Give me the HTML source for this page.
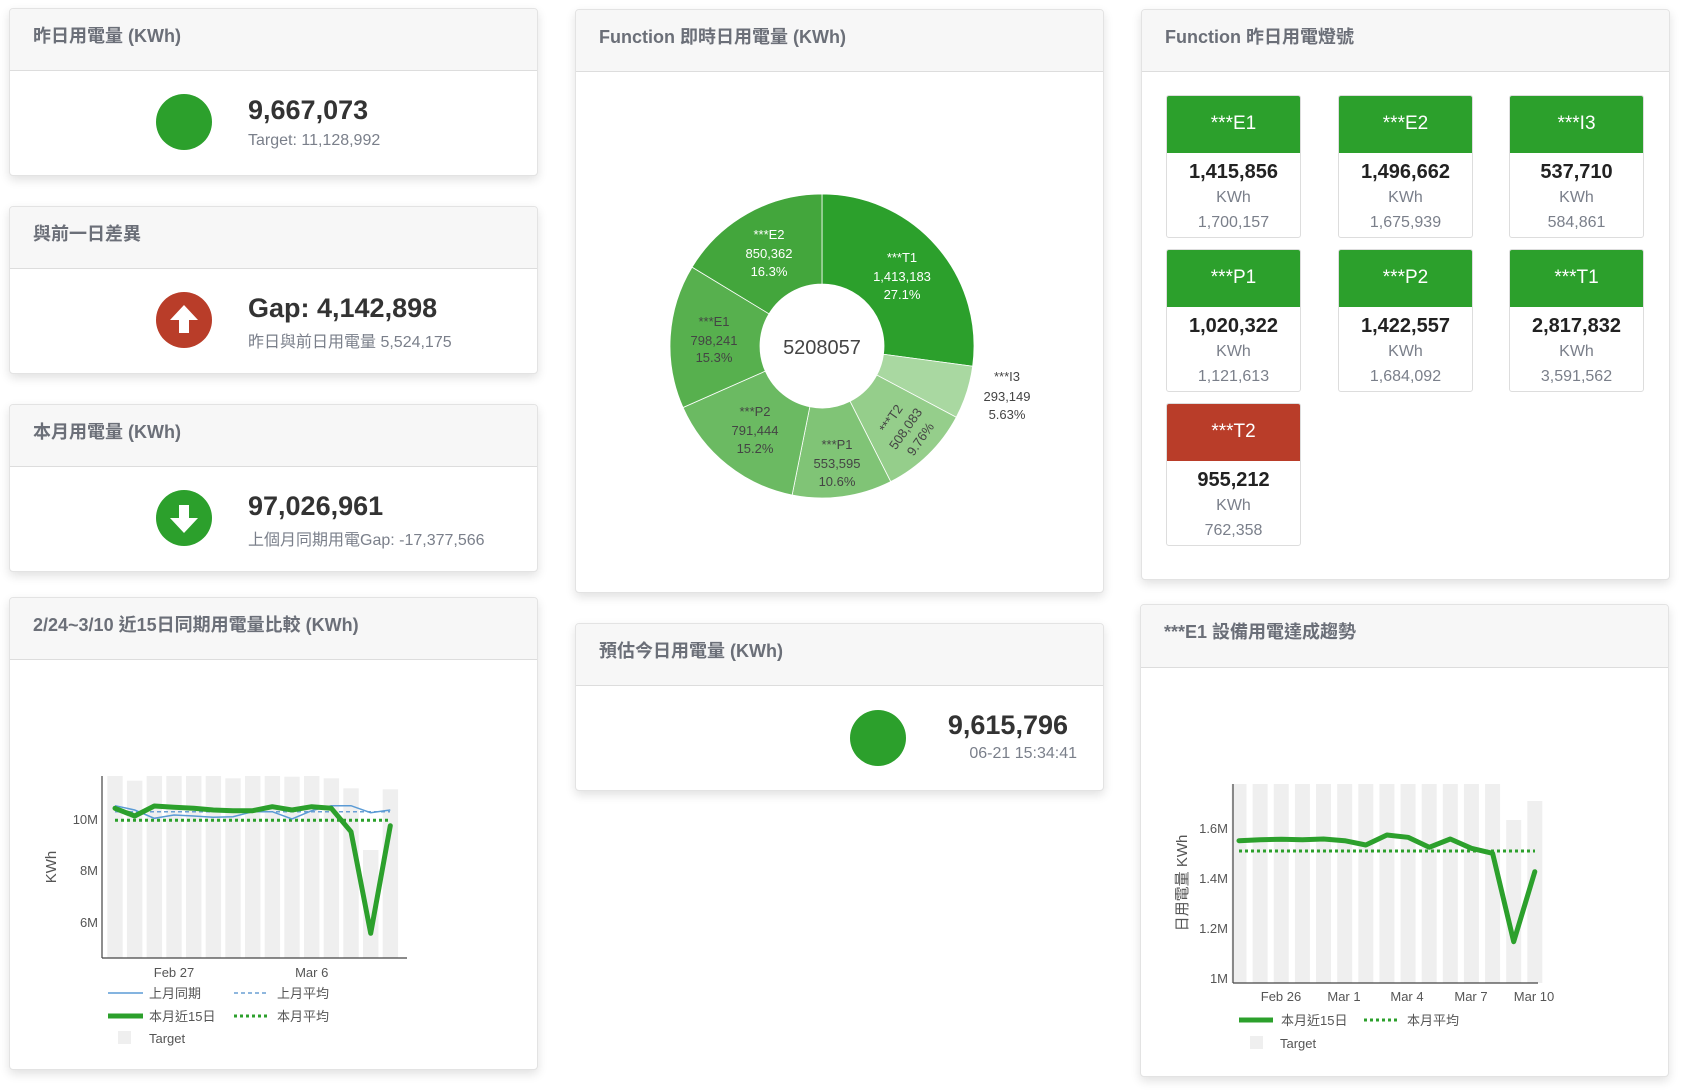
<!DOCTYPE html>
<html><head><meta charset="utf-8">
<style>
*{box-sizing:border-box;margin:0;padding:0}
body{width:1681px;height:1091px;background:#fff;position:relative;overflow:hidden;font-family:"Liberation Sans","Noto Sans CJK TC",sans-serif;color:#333}
.card{position:absolute;background:#fff;border:1px solid #e3e3e3;border-radius:4px;box-shadow:0 4px 10px rgba(0,0,0,0.12);overflow:hidden}
.hd{position:absolute;left:0;right:0;top:0;background:#f7f7f7;border-bottom:1px solid #ddd;color:#6b6f78;font-weight:bold;font-size:18px;padding-left:23px;padding-top:16px;line-height:22px}
.ab{position:absolute;white-space:nowrap}
.circ{position:absolute;width:56px;height:56px;border-radius:50%}
.big{font-size:27px;font-weight:bold;color:#333}
.sub{font-size:16px;color:#7a7f8a}
.box{position:absolute;width:135px;border:1px solid #ddd;border-radius:3px;background:#fff;text-align:center;overflow:hidden}
.box .t{height:57px;background:#2ca02c;color:#fff;font-size:19px;line-height:55px}
.box .v{font-size:20px;font-weight:bold;color:#222;margin-top:8px;line-height:22px}
.box .u{font-size:16px;color:#7a7f8a;line-height:30px}
.box .p{font-size:16px;color:#7a7f8a;line-height:20px}
svg text{font-family:"Liberation Sans","Noto Sans CJK TC",sans-serif}
</style></head><body>

<div class="card" style="left:9px;top:8px;width:529px;height:168px"><div class="hd" style="height:62px">昨日用電量 (KWh)</div></div>
<div class="circ" style="left:156px;top:94px;background:#2ca02c"></div>
<div class="ab big" style="left:248px;top:95px">9,667,073</div>
<div class="ab sub" style="left:248px;top:132px">Target: 11,128,992</div>

<div class="card" style="left:9px;top:206px;width:529px;height:168px"><div class="hd" style="height:62px">與前一日差異</div></div>
<div class="circ" style="left:156px;top:292px;background:#b93d29"></div>
<svg class="ab" style="left:156px;top:292px" width="56" height="56"><polygon points="28,13 42,28 33,28 33,41 23,41 23,28 14,28" fill="#fff"/></svg>
<div class="ab big" style="left:248px;top:293px">Gap: 4,142,898</div>
<div class="ab sub" style="left:248px;top:328px">昨日與前日用電量 5,524,175</div>

<div class="card" style="left:9px;top:404px;width:529px;height:168px"><div class="hd" style="height:62px">本月用電量 (KWh)</div></div>
<div class="circ" style="left:156px;top:490px;background:#2ca02c"></div>
<svg class="ab" style="left:156px;top:490px" width="56" height="56"><polygon points="28,43 42,28 33,28 33,15 23,15 23,28 14,28" fill="#fff"/></svg>
<div class="ab big" style="left:248px;top:491px">97,026,961</div>
<div class="ab sub" style="left:248px;top:526px">上個月同期用電Gap: -17,377,566</div>

<div class="card" style="left:9px;top:597px;width:529px;height:473px"><div class="hd" style="height:62px">2/24~3/10 近15日同期用電量比較 (KWh)</div></div>

<div class="card" style="left:575px;top:9px;width:529px;height:584px"><div class="hd" style="height:62px">Function 即時日用電量 (KWh)</div></div>

<div class="card" style="left:575px;top:623px;width:529px;height:168px"><div class="hd" style="height:62px">預估今日用電量 (KWh)</div></div>
<div class="circ" style="left:850px;top:710px;background:#2ca02c"></div>
<div class="ab big" style="right:613px;top:710px">9,615,796</div>
<div class="ab sub" style="right:604px;top:745px">06-21 15:34:41</div>

<div class="card" style="left:1141px;top:9px;width:529px;height:571px"><div class="hd" style="height:62px">Function 昨日用電燈號</div></div>
<div class="box" style="left:1166px;top:95px;height:143px"><div class="t">***E1</div><div class="v">1,415,856</div><div class="u">KWh</div><div class="p">1,700,157</div></div>
<div class="box" style="left:1338px;top:95px;height:143px"><div class="t">***E2</div><div class="v">1,496,662</div><div class="u">KWh</div><div class="p">1,675,939</div></div>
<div class="box" style="left:1509px;top:95px;height:143px"><div class="t">***I3</div><div class="v">537,710</div><div class="u">KWh</div><div class="p">584,861</div></div>
<div class="box" style="left:1166px;top:249px;height:143px"><div class="t">***P1</div><div class="v">1,020,322</div><div class="u">KWh</div><div class="p">1,121,613</div></div>
<div class="box" style="left:1338px;top:249px;height:143px"><div class="t">***P2</div><div class="v">1,422,557</div><div class="u">KWh</div><div class="p">1,684,092</div></div>
<div class="box" style="left:1509px;top:249px;height:143px"><div class="t">***T1</div><div class="v">2,817,832</div><div class="u">KWh</div><div class="p">3,591,562</div></div>
<div class="box" style="left:1166px;top:403px;height:143px"><div class="t" style="background:#b93d29">***T2</div><div class="v">955,212</div><div class="u">KWh</div><div class="p">762,358</div></div>

<div class="card" style="left:1140px;top:604px;width:529px;height:473px"><div class="hd" style="height:63px">***E1 設備用電達成趨勢</div></div>

<svg class="ab" style="left:0;top:0" width="1681" height="1091">
<g id="pie"></g>
<g font-size="13" text-anchor="middle">
<text x="769" y="239" fill="#fff">***E2</text><text x="769" y="258" fill="#fff">850,362</text><text x="769" y="276" fill="#fff">16.3%</text>
<text x="902" y="262" fill="#fff">***T1</text><text x="902" y="281" fill="#fff">1,413,183</text><text x="902" y="299" fill="#fff">27.1%</text>
<text x="714" y="326" fill="#444">***E1</text><text x="714" y="345" fill="#444">798,241</text><text x="714" y="362" fill="#444">15.3%</text>
<text x="755" y="416" fill="#444">***P2</text><text x="755" y="435" fill="#444">791,444</text><text x="755" y="453" fill="#444">15.2%</text>
<text x="837" y="449" fill="#444">***P1</text><text x="837" y="468" fill="#444">553,595</text><text x="837" y="486" fill="#444">10.6%</text>
<g transform="translate(906,429) rotate(-55)"><text x="0" y="-14" fill="#444">***T2</text><text x="0" y="4" fill="#444">508,083</text><text x="0" y="22" fill="#444">9.76%</text></g>
<text x="1007" y="381" fill="#444">***I3</text><text x="1007" y="401" fill="#444">293,149</text><text x="1007" y="419" fill="#444">5.63%</text>
<text x="822" y="354" font-size="20" fill="#444">5208057</text>
</g>

<g fill="#efefef" id="lb"></g>
<g stroke="#444" stroke-width="1.2" fill="none"><line x1="102" y1="776" x2="102" y2="958"/><line x1="102" y1="958" x2="407" y2="958"/></g>
<g font-size="13" fill="#555" text-anchor="end"><text x="98" y="824">10M</text><text x="98" y="875">8M</text><text x="98" y="927">6M</text></g>
<text transform="translate(56,867) rotate(-90)" font-size="15" fill="#555" text-anchor="middle">KWh</text>
<g font-size="13" fill="#555" text-anchor="middle"><text x="174" y="977">Feb 27</text><text x="311.7" y="977">Mar 6</text></g>
<line x1="115" y1="811.7" x2="390" y2="811.7" stroke="#6a9fd4" stroke-width="1.5" stroke-dasharray="4,3"/>
<line x1="115" y1="820.3" x2="390" y2="820.3" stroke="#2ca02c" stroke-width="3" stroke-dasharray="3,3"/>
<polyline fill="none" stroke="#5b9bd5" stroke-width="1.5" points="115,805.7 134.7,810 154.3,818.3 174,815 193.7,816 213.3,817.3 233,816.7 252.7,811.7 272.3,811.7 292,819 311.7,810.7 331.3,805.7 351,805.7 370.7,812.7 390.3,810"/>
<polyline fill="none" stroke="#2ca02c" stroke-width="5" stroke-linejoin="round" stroke-linecap="round" points="115,808.3 134.7,816 154.3,806 174,807.3 193.7,808.3 213.3,810 233,810.7 252.7,810.7 272.3,806.7 292,810 311.7,806.7 331.3,808.3 351,831.7 370.7,933.3 390.3,825.7"/>
<g font-size="13" fill="#555">
<line x1="108" y1="993" x2="143" y2="993" stroke="#5b9bd5" stroke-width="1.5"/><text x="149" y="998">上月同期</text>
<line x1="234" y1="993" x2="267" y2="993" stroke="#6a9fd4" stroke-width="1.5" stroke-dasharray="4,3"/><text x="277" y="998">上月平均</text>
<line x1="108" y1="1016" x2="143" y2="1016" stroke="#2ca02c" stroke-width="5"/><text x="149" y="1021">本月近15日</text>
<line x1="234" y1="1016" x2="267" y2="1016" stroke="#2ca02c" stroke-width="3" stroke-dasharray="3,3"/><text x="277" y="1021">本月平均</text>
<rect x="118" y="1031" width="13" height="13" fill="#efefef"/><text x="149" y="1043">Target</text>
</g>

<g fill="#efefef" id="rb"></g>
<g stroke="#444" stroke-width="1.2" fill="none"><line x1="1233" y1="784" x2="1233" y2="983"/><line x1="1233" y1="983" x2="1538" y2="983"/></g>
<g font-size="13" fill="#555" text-anchor="end"><text x="1228" y="833">1.6M</text><text x="1228" y="883">1.4M</text><text x="1228" y="933">1.2M</text><text x="1228" y="983">1M</text></g>
<text transform="translate(1187,883) rotate(-90)" font-size="15" fill="#555" text-anchor="middle">日用電量 KWh</text>
<g font-size="13" fill="#555" text-anchor="middle"><text x="1281" y="1001">Feb 26</text><text x="1344" y="1001">Mar 1</text><text x="1407" y="1001">Mar 4</text><text x="1471" y="1001">Mar 7</text><text x="1534" y="1001">Mar 10</text></g>
<line x1="1239" y1="851" x2="1535" y2="851" stroke="#2ca02c" stroke-width="3" stroke-dasharray="3,3"/>
<polyline fill="none" stroke="#2ca02c" stroke-width="5" stroke-linejoin="round" stroke-linecap="round" points="1239,840.7 1260.1,839.7 1281.3,839.3 1302.4,839.7 1323.5,839 1344.7,840.7 1365.8,845 1386.9,835 1408,837.3 1429.2,847.3 1450.3,839 1471.4,848.3 1492.6,853.3 1513.7,941.7 1534.8,871.7"/>
<g font-size="13" fill="#555">
<line x1="1239" y1="1020" x2="1273" y2="1020" stroke="#2ca02c" stroke-width="5"/><text x="1281" y="1025">本月近15日</text>
<line x1="1364" y1="1020" x2="1397" y2="1020" stroke="#2ca02c" stroke-width="3" stroke-dasharray="3,3"/><text x="1407" y="1025">本月平均</text>
<rect x="1250" y="1036" width="13" height="13" fill="#efefef"/><text x="1280" y="1048">Target</text>
</g>
</svg>
<script>
(function(){
var ns="http://www.w3.org/2000/svg";
var cx=822,cy=346,R=152,r=62;
var d=[[27.1,"#2ca02c"],[5.63,"#a9d8a1"],[9.76,"#95ce8b"],[10.6,"#80c476"],[15.2,"#6bba62"],[15.3,"#57b04e"],[16.3,"#43a63c"]];
var tot=0;d.forEach(function(x){tot+=x[0]});
var a=0,g=document.getElementById("pie");
d.forEach(function(x){
 var a0=a/tot*2*Math.PI,a1=(a+x[0])/tot*2*Math.PI;a+=x[0];
 function p(rr,t){return [cx+rr*Math.sin(t),cy-rr*Math.cos(t)];}
 var l=(a1-a0)>Math.PI?1:0,P1=p(R,a0),P2=p(R,a1),P3=p(r,a1),P4=p(r,a0);
 var e=document.createElementNS(ns,"path");
 e.setAttribute("d","M"+P1+"A"+R+","+R+" 0 "+l+" 1 "+P2+"L"+P3+"A"+r+","+r+" 0 "+l+" 0 "+P4+"Z");
 e.setAttribute("fill",x[1]);e.setAttribute("stroke","#fff");e.setAttribute("stroke-width","0.8");
 g.appendChild(e);
});
var lt=[776,780.7,776,776,776,776,778.3,776,776,776.7,776,778.3,788.3,850,789.3],lb=document.getElementById("lb");
lt.forEach(function(t,i){var e=document.createElementNS(ns,"rect");e.setAttribute("x",107.3+19.67*i);e.setAttribute("y",t);e.setAttribute("width",15.4);e.setAttribute("height",958-t);lb.appendChild(e);});
var rb=document.getElementById("rb");
for(var i=0;i<15;i++){var t=i==13?820:(i==14?801:784);var e=document.createElementNS(ns,"rect");e.setAttribute("x",1239+21.13*i-7.5);e.setAttribute("y",t);e.setAttribute("width",15);e.setAttribute("height",983-t);rb.appendChild(e);}
})();
</script>
</body></html>
